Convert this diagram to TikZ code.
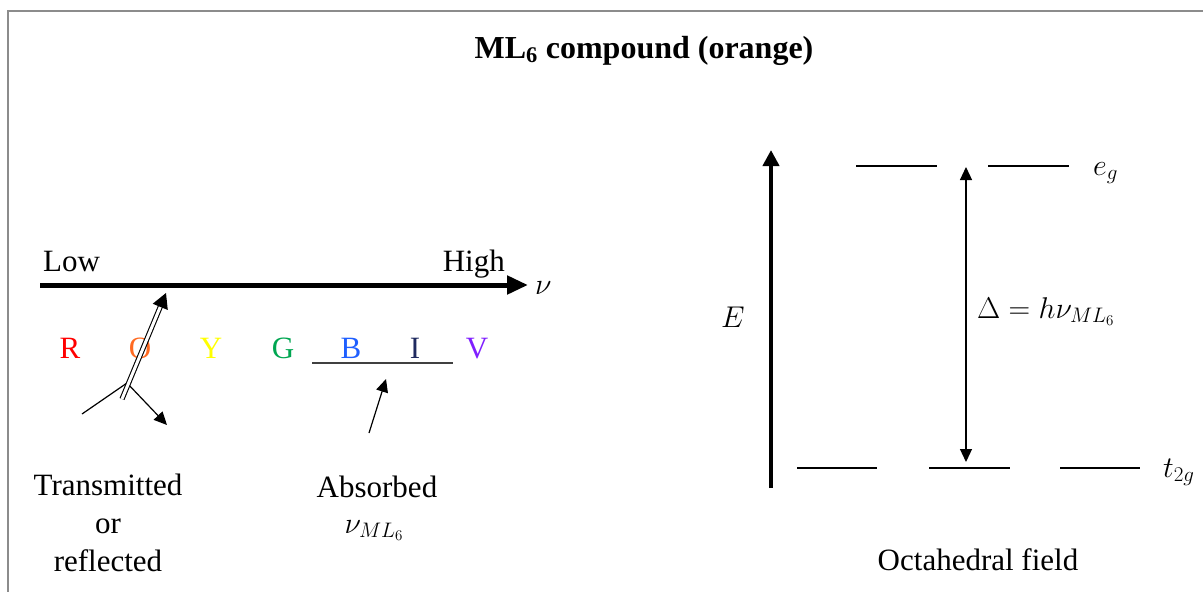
\RequirePackage{fix-cm}
\documentclass[tikz,border=0pt]{standalone}
\usepackage{fontspec}
\setmainfont{Liberation Serif}
\usetikzlibrary{arrows.meta,calc}

\definecolor{cR}{HTML}{FF0000}
\definecolor{cO}{HTML}{FF6A21}
\definecolor{cY}{HTML}{FFFF00}
\definecolor{cG}{HTML}{00A651}
\definecolor{cB}{HTML}{1F5FFF}
\definecolor{cI}{HTML}{1F2A5F}
\definecolor{cV}{HTML}{7F1FFF}
\definecolor{frame}{HTML}{8C8C8C}

\begin{document}
\begin{tikzpicture}[x=1pt,y=-1pt,
  txt/.style={font=\fontsize{31}{37}\selectfont, inner sep=0pt},
  mtxt/.style={font=\fontsize{30}{36}\selectfont, inner sep=0pt},
  lvl/.style={line width=1.3pt},
  thin arrow/.style={line width=1.2pt},
  tipS/.style={-{Triangle[length=13pt,width=12pt]}},
]
\useasboundingbox (0,0) rectangle (1203,592);

% outer frame (open to the right and bottom)
\draw[frame, line width=2pt] (8,592) -- (8,11) -- (1203,11);

% title
\node[inner sep=0pt, font=\bfseries\fontsize{32}{38}\selectfont, anchor=base] (title) at (644,58)
  {ML\textsubscript{6} compound (orange)};

% ---------------- frequency axis ----------------
\coordinate (ax0) at (40,285);
\coordinate (ax1) at (528,285);
\draw[line width=5pt, -{Triangle[length=21pt,width=18pt]}] (ax0) -- (ax1);
\node[txt, anchor=base west] (low)  at (43,271)  {Low};
\node[txt, anchor=base east] (high) at (505,271) {High};
\node[mtxt, anchor=base west] (nu)  at (535,294) {$\nu$};

% colour letters
\node[txt, anchor=base, text=cR] (R) at (70,358)  {R};
\node[txt, anchor=base, text=cO] (O) at (140,358) {O};
\node[txt, anchor=base, text=cY] (Y) at (211,358) {Y};
\node[txt, anchor=base, text=cG] (G) at (283,358) {G};
\node[txt, anchor=base, text=cB] (B) at (351,358) {B};
\node[txt, anchor=base, text=cI] (I) at (415,358) {I};
\node[txt, anchor=base, text=cV] (V) at (477,358) {V};

% absorbed band
\coordinate (band0) at (312,363);
\coordinate (band1) at (453,363);
\draw[line width=2pt, black!75] (band0) -- (band1);
\coordinate (absfoot) at (369,433);
\coordinate (abstip)  at (386,379);
\draw[thin arrow, tipS] (absfoot) -- (abstip);
\node[txt, anchor=base] (absorbed) at (377,497) {Absorbed};
\node[mtxt, anchor=base] (absnu) at (374,533) {$\nu_{ML_6}$};

% transmitted / reflected light
\coordinate (inc)  at (82,414);
\coordinate (jn)   at (127,383);
\coordinate (dbot) at (122,399);
\coordinate (dtop) at (166,293);
\coordinate (refl) at (167,425);
\draw[thin arrow] (inc) -- (jn);
\draw[thin arrow, tipS] (jn) -- (refl);
\draw[line width=1.1pt, double distance=3pt, shorten >=12pt] (dbot) -- (dtop);
\draw[thin arrow, -{Triangle[length=15pt,width=16pt]}] ($(dtop)!14pt!(dbot)$) -- (dtop);
\node[txt, align=center, anchor=base] (trans) at (108,571)
  {Transmitted\\[1pt]or\\[1pt]reflected};

% ---------------- energy diagram ----------------
\coordinate (E0) at (771,488);
\coordinate (E1) at (771,150);
\draw[line width=4.5pt, -{Triangle[length=16pt,width=16pt]}] (E0) -- (E1);
\node[mtxt, anchor=base west] (E) at (721,327) {$E$};

% e_g levels
\draw[lvl] (856,166) -- (937,166);
\draw[lvl] (988,166) -- (1069,166);
\node[mtxt, anchor=base west] (eg) at (1093,175) {$e_g$};

% t_2g levels
\draw[lvl] (797,468) -- (877,468);
\draw[lvl] (929,468) -- (1010,468);
\draw[lvl] (1060,468) -- (1140,468);
\node[mtxt, anchor=base west] (t2g) at (1163,477) {$t_{2g}$};

% splitting
\coordinate (sp1) at (966,167);
\coordinate (sp0) at (966,462);
\draw[thin arrow, {Triangle[length=13pt,width=12pt]}-{Triangle[length=13pt,width=12pt]}] (sp1) -- (sp0);
\node[mtxt, anchor=base west] (delta) at (977,318) {$\Delta = h\nu_{ML_6}$};

\node[txt, anchor=base] (oct) at (978,570) {Octahedral field};
\end{tikzpicture}
\end{document}
